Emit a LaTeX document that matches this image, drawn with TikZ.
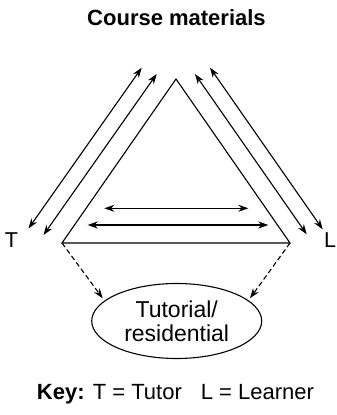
\documentclass[tikz,border=0pt]{standalone}
\usepackage{fontspec}
\setmainfont{Liberation Sans}
\usetikzlibrary{arrows.meta,shapes.geometric}
\begin{document}
\begin{tikzpicture}[x=1pt,y=-1pt,
  line width=1.1pt,
  dbl/.style={{Stealth[length=10pt,width=7pt]}-{Stealth[length=10pt,width=7pt]}},
  dsh/.style={dash pattern=on 5pt off 3pt,-{Stealth[length=10pt,width=7pt]}},
  lbl/.style={font=\fontsize{21.5}{24}\selectfont,inner sep=0pt}]
\useasboundingbox (0,0) rectangle (337,415);
% title
\node[font=\bfseries\fontsize{22}{24}\selectfont,inner sep=0pt,anchor=base] (title) at (176.5,25) {Course materials};
% triangle
\coordinate (apex) at (176,79);
\coordinate (bl) at (62,243);
\coordinate (br) at (290,243);
\draw (bl) -- (apex) -- (br) -- cycle;
% left arrows
\coordinate (l1a) at (28.5,228.5); \coordinate (l1b) at (141.7,67.7);
\coordinate (l2a) at (43.5,235);   \coordinate (l2b) at (156.7,74);
\draw[dbl] (l1a) -- (l1b);
\draw[dbl] (l2a) -- (l2b);
% right arrows
\coordinate (r1a) at (195,74);   \coordinate (r1b) at (306.7,234.3);
\coordinate (r2a) at (210,67.7); \coordinate (r2b) at (322.7,229.3);
\draw[dbl] (r1a) -- (r1b);
\draw[dbl] (r2a) -- (r2b);
% inner horizontal arrows
\coordinate (h1a) at (104.3,208.3); \coordinate (h1b) at (248.3,208.3);
\coordinate (h2a) at (87.7,225);    \coordinate (h2b) at (268.3,225);
\draw[dbl] (h1a) -- (h1b);
\draw[dbl] (h2a) -- (h2b);
% labels
\node[lbl] (T) at (11.5,240) {T};
\node[lbl] (L) at (330,240) {L};
% ellipse
\node[draw,ellipse,minimum width=170pt,minimum height=75pt,inner sep=0pt,
      align=center,font=\fontsize{23}{24}\selectfont] (tut) at (176.7,321) {Tutorial/\\residential};
% dashed arrows
\coordinate (dl) at (102.7,298.3);
\coordinate (dr) at (250,298.3);
\draw[dsh] (bl) -- (dl);
\draw[dsh] (br) -- (dr);
% key
\node[font=\fontsize{22}{24}\selectfont,inner sep=0pt,anchor=base] (key) at (175.5,399.3) {\textbf{Key:} T = Tutor\hspace{19pt}L = Learner};
\end{tikzpicture}
\end{document}
